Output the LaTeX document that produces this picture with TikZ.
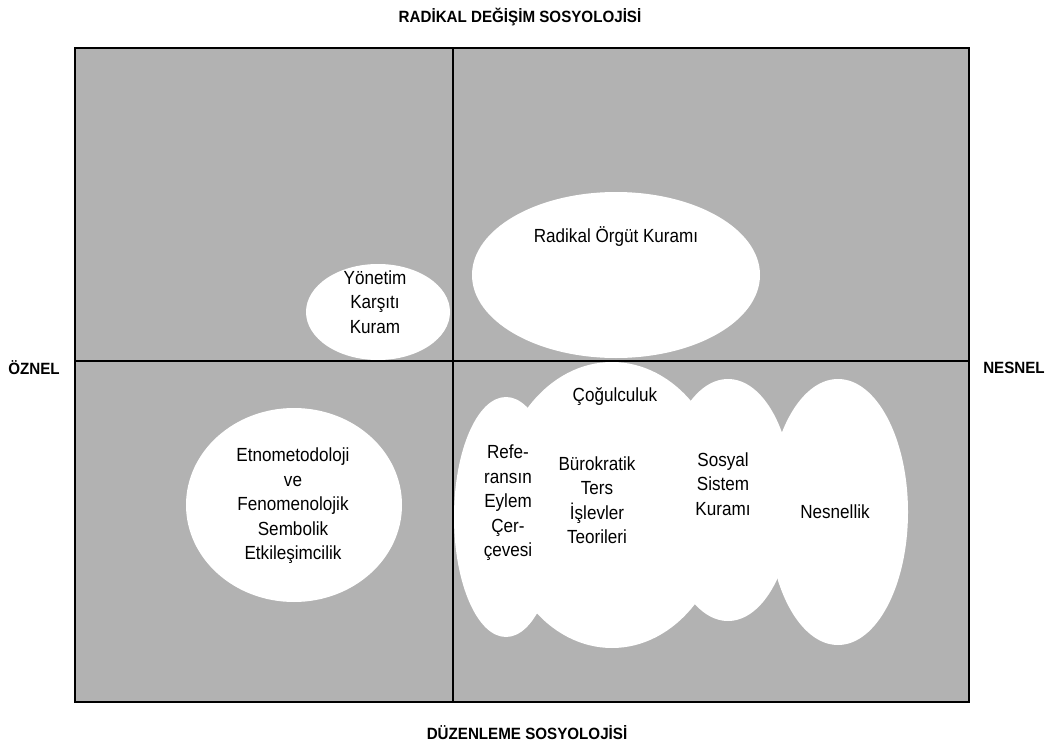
\documentclass[tikz,border=0pt]{standalone}
\usepackage{fontspec}
\setmainfont{Liberation Sans}
\newfontfamily\axisfont[FakeStretch=0.93]{Liberation Sans}
\newfontfamily\blobfont[FakeStretch=0.9]{Liberation Sans}
\usepackage{tikz}
\usetikzlibrary{shapes.geometric}
\definecolor{quadgray}{RGB}{178,178,178}
\tikzset{
	axislabel/.style={font=\axisfont\fontsize{16.3}{19}\selectfont\bfseries, inner sep=0pt},
	blob/.style={ellipse, fill=white, inner sep=0pt},
	blobtext/.style={font=\blobfont\fontsize{19}{24.5}\selectfont, align=center, inner sep=0pt}
}

\begin{document}
\begin{tikzpicture}[x=1pt, y=-1pt]
	\useasboundingbox (0,0) rectangle (1055,749);
	\fill[quadgray] (74.7,47.7) rectangle (968.7,702);

	% upper half
	\node[blob, minimum width=144, minimum height=96] (yonetim) at (378,312) {};
	\node[blob, minimum width=288, minimum height=166] (radikal) at (616,275) {};
	% lower left
	\node[blob, minimum width=216, minimum height=194] (etno) at (294,505) {};
	% lower right cluster
	\node[blob, minimum width=104, minimum height=240] (refe) at (506,517) {};
	\node[blob, minimum width=230, minimum height=286] (cogul) at (612,505) {};
	\node[blob, minimum width=130, minimum height=242] (sosyal) at (728,500) {};
	\node[blob, minimum width=140, minimum height=266] (nesnel) at (838,512) {};

	\draw[line width=2pt] (74.7,47.7) rectangle (968.7,702);
	\draw[line width=2pt] (453,47.7) coordinate (top) -- (453,702) coordinate (bottom);
	\draw[line width=2pt] (74.7,360.7) coordinate (left) -- (968.7,360.7) coordinate (right);

	\node[blobtext] (yonetimtext) at (375,302) {Yönetim\\Karşıtı\\Kuram};
	\node[blobtext] (radikaltext) at (616,237) {Radikal Örgüt Kuramı};
	\node[blobtext] (etnotext) at (293,506) {Etnometodoloji\\ve\\Fenomenolojik\\Sembolik\\Etkileşimcilik};
	\node[blobtext] (cogultext) at (615,397) {Çoğulculuk};
	\node[blobtext] (refetext) at (508,503) {Refe-\\ransın\\Eylem\\Çer-\\çevesi};
	\node[blobtext] (burotext) at (597,500) {Bürokratik\\Ters\\İşlevler\\Teorileri};
	\node[blobtext] (sosyaltext) at (723,484) {Sosyal\\Sistem\\Kuramı};
	\node[blobtext] (nesneltext) at (835,512) {Nesnellik};

	\node[axislabel] (radical) at (520,17) {RADİKAL DEĞİŞİM SOSYOLOJİSİ};
	\node[axislabel] (regulation) at (527,733) {DÜZENLEME SOSYOLOJİSİ};
	\node[axislabel] (subjective) at (34,368) {ÖZNEL};
	\node[axislabel] (objective) at (1014,368) {NESNEL};
\end{tikzpicture}
\end{document}
